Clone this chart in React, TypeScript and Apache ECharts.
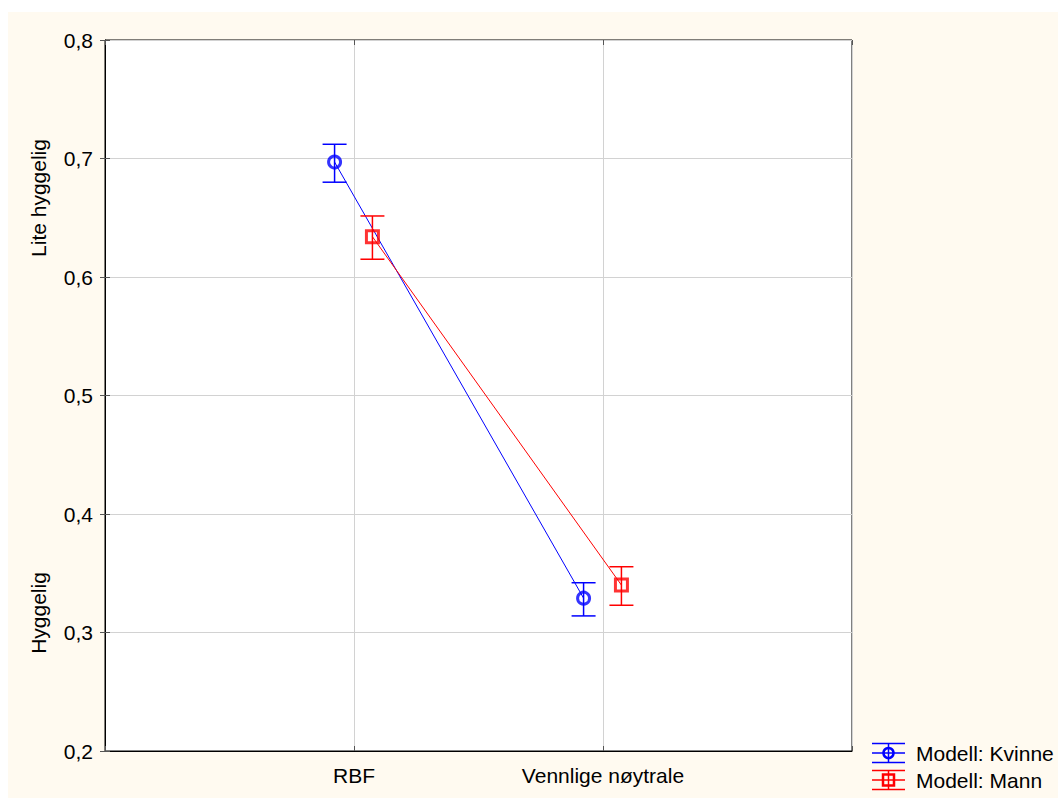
import React, { useEffect, useRef } from "react";
import * as echarts from "echarts";

const categories = ["RBF", "Vennlige nøytrale"];
const seriesNames = ["Modell: Kvinne", "Modell: Mann"];
const kvinneMean = [0.697, 0.329];
const kvinneLow = [0.68, 0.314];
const kvinneHigh = [0.712, 0.342];
const mannMean = [0.634, 0.34];
const mannLow = [0.615, 0.323];
const mannHigh = [0.6515, 0.3555];
const yAxisNames = ["Lite hyggelig", "Hyggelig"];

const FONT = "'Liberation Sans', Arial, sans-serif";
const FS = 21;
const BLUE = "#0000ff";
const RED = "#ff0000";
const KV_OFF = -0.078;
const MA_OFF = 0.074;

function errorBarRender(color: string) {
  return (params: any, api: any) => {
    const x = api.value(0);
    const lo = api.value(1);
    const hi = api.value(2);
    const pLo = api.coord([x, lo]);
    const pHi = api.coord([x, hi]);
    const hw = 12;
    const st = { stroke: color, lineWidth: 1.5 };
    return {
      type: "group",
      children: [
        { type: "line", shape: { x1: pLo[0], y1: pLo[1], x2: pHi[0], y2: pHi[1] }, style: st },
        { type: "line", shape: { x1: pLo[0] - hw, y1: pLo[1], x2: pLo[0] + hw, y2: pLo[1] }, style: st },
        { type: "line", shape: { x1: pHi[0] - hw, y1: pHi[1], x2: pHi[0] + hw, y2: pHi[1] }, style: st },
      ],
    };
  };
}

function legendItem(cy: number, color: string, marker: "circle" | "square", label: string) {
  const x0 = 872;
  const x1 = 905;
  const cx = 888.5;
  const st = { stroke: color, lineWidth: 1.5 };
  const m =
    marker === "circle"
      ? { type: "circle", shape: { cx, cy, r: 5 }, style: { stroke: color, lineWidth: 2.5, fill: "none" } }
      : { type: "rect", shape: { x: cx - 5.5, y: cy - 5.5, width: 11, height: 11 }, style: { stroke: color, lineWidth: 2.5, fill: "none" } };
  return {
    type: "group",
    children: [
      { type: "line", shape: { x1: x0, y1: cy - 9.5, x2: x1, y2: cy - 9.5 }, style: st },
      { type: "line", shape: { x1: x0, y1: cy, x2: x1, y2: cy }, style: st },
      { type: "line", shape: { x1: x0, y1: cy + 9.5, x2: x1, y2: cy + 9.5 }, style: st },
      { type: "line", shape: { x1: cx, y1: cy - 9.5, x2: cx, y2: cy + 9.5 }, style: st },
      m,
      {
        type: "text",
        x: 916,
        y: cy,
        style: { text: label, fill: "#000", font: `${FS}px ${FONT}`, textAlign: "left", textVerticalAlign: "middle" },
      },
    ],
  };
}

export default function App() {
  const ref = useRef<HTMLDivElement>(null);
  useEffect(() => {
    if (!ref.current) return;
    const chart = echarts.init(ref.current, null, { renderer: "svg" });
    const xs = categories.map((_, i) => i + 1);
    const tickStyle = { show: true, inside: true, length: 5, lineStyle: { color: "#555", width: 1 } };
    chart.setOption({
      animation: false,
      backgroundColor: "#ffffff",
      graphic: [
        { type: "rect", z: -10, shape: { x: 8, y: 12, width: 1050, height: 786 }, style: { fill: "#fffaf0" } },
        {
          type: "text",
          x: 38,
          y: 198,
          rotation: Math.PI / 2,
          style: { text: yAxisNames[0], fill: "#000", font: `${FS}px ${FONT}`, textAlign: "center", textVerticalAlign: "middle" },
        },
        {
          type: "text",
          x: 38,
          y: 613,
          rotation: Math.PI / 2,
          style: { text: yAxisNames[1], fill: "#000", font: `${FS}px ${FONT}`, textAlign: "center", textVerticalAlign: "middle" },
        },
        legendItem(753, BLUE, "circle", seriesNames[0]),
        legendItem(780, RED, "square", seriesNames[1]),
      ],
      grid: {
        left: 105,
        top: 40,
        right: 206,
        bottom: 47,
        show: true,
        backgroundColor: "#ffffff",
        borderColor: "#000",
        borderWidth: 1,
        containLabel: false,
      },
      xAxis: [
        {
          type: "value",
          min: 0,
          max: 3,
          interval: 1,
          axisLine: { show: true, lineStyle: { color: "#000" } },
          axisTick: tickStyle,
          splitLine: { show: true, lineStyle: { color: "#d2d2d2", width: 1 } },
          axisLabel: {
            margin: 14,
            color: "#000",
            fontFamily: FONT,
            fontSize: FS,
            formatter: (v: number) => categories[v - 1] ?? "",
          },
        },
        {
          type: "value",
          position: "top",
          min: 0,
          max: 3,
          interval: 1,
          axisLine: { show: false },
          axisTick: tickStyle,
          splitLine: { show: false },
          axisLabel: { show: false },
        },
      ],
      yAxis: [
        {
          type: "value",
          min: 0.2,
          max: 0.8,
          interval: 0.1,
          axisLine: { show: true, lineStyle: { color: "#000" } },
          axisTick: tickStyle,
          splitLine: { show: true, lineStyle: { color: "#d2d2d2", width: 1 } },
          axisLabel: {
            margin: 12,
            color: "#000",
            fontFamily: FONT,
            fontSize: FS,
            formatter: (v: number) => v.toFixed(1).replace(".", ","),
          },
        },
        {
          type: "value",
          position: "right",
          min: 0.2,
          max: 0.8,
          interval: 0.1,
          axisLine: { show: false },
          axisTick: tickStyle,
          splitLine: { show: false },
          axisLabel: { show: false },
        },
      ],
      series: [
        {
          name: seriesNames[0],
          type: "line",
          data: xs.map((x, i) => [x + KV_OFF, kvinneMean[i]]),
          symbol: "none",
          lineStyle: { color: BLUE, width: 1 },
          z: 2,
        },
        {
          name: seriesNames[1],
          type: "line",
          data: xs.map((x, i) => [x + MA_OFF, mannMean[i]]),
          symbol: "none",
          lineStyle: { color: RED, width: 1 },
          z: 2,
        },
        {
          type: "custom",
          renderItem: errorBarRender(BLUE),
          data: xs.map((x, i) => [x + KV_OFF, kvinneLow[i], kvinneHigh[i]]),
          encode: { x: 0, y: [1, 2] },
          z: 3,
        },
        {
          type: "custom",
          renderItem: errorBarRender(RED),
          data: xs.map((x, i) => [x + MA_OFF, mannLow[i], mannHigh[i]]),
          encode: { x: 0, y: [1, 2] },
          z: 3,
        },
        {
          type: "scatter",
          data: xs.map((x, i) => [x + KV_OFF, kvinneMean[i]]),
          symbol: "circle",
          symbolSize: 12,
          itemStyle: { color: "rgba(0,0,0,0)", borderColor: BLUE, borderWidth: 3 },
          z: 4,
        },
        {
          type: "scatter",
          data: xs.map((x, i) => [x + MA_OFF, mannMean[i]]),
          symbol: "rect",
          symbolSize: 12,
          itemStyle: { color: "rgba(0,0,0,0)", borderColor: RED, borderWidth: 3 },
          z: 4,
        },
      ],
    });
    return () => chart.dispose();
  }, []);
  return (
    <div
      ref={ref}
      style={{ position: "absolute", left: 0, top: 0, width: 1058, height: 798 }}
    />
  );
}
